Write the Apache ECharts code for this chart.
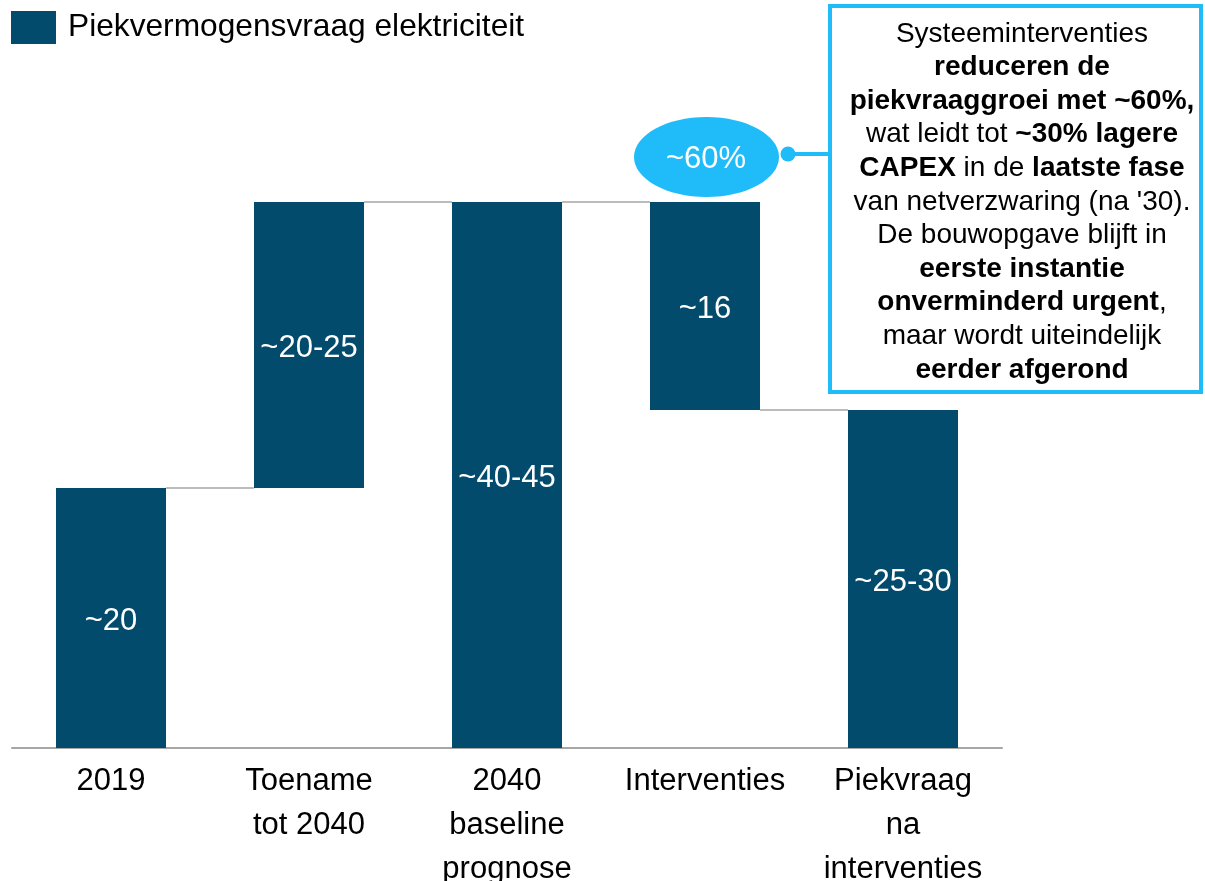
<!DOCTYPE html>
<html>
<head>
<meta charset="utf-8">
<script src="https://cdn.jsdelivr.net/npm/echarts@6/dist/echarts.min.js"></script>
<style>
  html, body { margin: 0; padding: 0; background: #fff; }
  #chart { width: 1205px; height: 881px; }
</style>
</head>
<body>
<div id="chart"></div>
<script>
const categories = ['2019', 'Toename\ntot 2040', '2040\nbaseline\nprognose', 'Interventies', 'Piekvraag\nna\ninterventies']
const baseValues = [0, 20, 0, 26, 0]       // invisible offset of each waterfall step
const stepValues = [20, 22, 42, 16, 26]    // visible bar heights
const barLabels = ['~20', '~20-25', '~40-45', '~16', '~25-30']
const connectors = [[0, 20], [1, 42], [2, 42], [3, 26]]  // [from category, level]

const font = 'Arial, "Liberation Sans", sans-serif'
const barColor = '#034b6d'
const cyan = '#20bcfa'
const BAR_W = 110

const chart = echarts.init(document.getElementById('chart'))

const option = {
  animation: false,
  textStyle: { fontFamily: font },
  legend: {
    left: 6,
    top: 6,
    icon: 'rect',
    itemWidth: 45,
    itemHeight: 33,
    data: ['Piekvermogensvraag elektriciteit'],
    textStyle: { fontSize: 31.7, color: '#000', fontFamily: font, padding: [6, 0, 0, 7] }
  },
  grid: { left: 12, right: 203, top: 98, bottom: 133, containLabel: false, outerBoundsMode: 'none' },
  xAxis: {
    type: 'category',
    data: categories,
    axisLine: { lineStyle: { color: '#a6a6a6', width: 2 } },
    axisTick: { show: false },
    axisLabel: { fontSize: 31, color: '#000', lineHeight: 44, margin: 11, fontFamily: font, interval: 0 }
  },
  yAxis: { type: 'value', min: 0, max: 50, show: false, splitLine: { show: false } },
  series: [
    {
      name: 'base',
      type: 'bar',
      stack: 'wf',
      barWidth: BAR_W,
      itemStyle: { color: 'transparent' },
      silent: true,
      data: baseValues
    },
    {
      name: 'Piekvermogensvraag elektriciteit',
      type: 'bar',
      stack: 'wf',
      barWidth: BAR_W,
      itemStyle: { color: barColor },
      label: {
        show: true,
        position: 'inside',
        offset: [0, 3],
        color: '#fff',
        fontSize: 31,
        fontFamily: font,
        formatter: p => barLabels[p.dataIndex]
      },
      data: stepValues
    },
    {
      name: 'connector',
      type: 'custom',
      silent: true,
      z: 1,
      renderItem (params, api) {
        const pt = api.coord([api.value(0), api.value(1)])
        const step = api.size([1, 0])[0]
        return {
          type: 'line',
          shape: { x1: pt[0] + BAR_W / 2, y1: pt[1], x2: pt[0] + step - BAR_W / 2, y2: pt[1] },
          style: { stroke: '#a6a6a6', lineWidth: 1.5 }
        }
      },
      encode: { x: 0, y: 1 },
      data: connectors
    }
  ],
  graphic: [
    {
      type: 'rect',
      shape: { x: 830, y: 6, width: 371, height: 386 },
      style: { fill: '#fff', stroke: cyan, lineWidth: 4 }
    },
    {
      type: 'line',
      shape: { x1: 788, y1: 154, x2: 830, y2: 154 },
      style: { stroke: cyan, lineWidth: 4 }
    },
    {
      type: 'circle',
      shape: { cx: 788, cy: 154, r: 7.5 },
      style: { fill: cyan }
    },
    {
      type: 'ellipse',
      shape: { cx: 706.5, cy: 157, rx: 72.5, ry: 40 },
      style: { fill: cyan }
    },
    {
      type: 'text',
      x: 706,
      y: 159,
      style: {
        text: '~60%',
        fill: '#fff',
        font: '31px ' + font,
        align: 'center',
        verticalAlign: 'middle'
      }
    },
    {
      type: 'text',
      x: 1022,
      y: 17,
      style: {
        text: [
          '{n|Systeeminterventies}',
          '{b|reduceren de}',
          '{b|piekvraaggroei met ~60%,}',
          '{n|wat leidt tot }{b|~30% lagere}',
          '{b|CAPEX}{n| in de }{b|laatste fase}',
          "{n|van netverzwaring (na '30).}",
          '{n|De bouwopgave blijft in}',
          '{b|eerste instantie}',
          '{b|onverminderd urgent}{n|,}',
          '{n|maar wordt uiteindelijk}',
          '{b|eerder afgerond}'
        ].join('\n'),
        align: 'center',
        verticalAlign: 'top',
        rich: {
          n: { fontSize: 28, fontFamily: font, color: '#000', lineHeight: 33.6, align: 'center' },
          b: { fontSize: 28, fontFamily: font, fontWeight: 'bold', color: '#000', lineHeight: 33.6, align: 'center' }
        }
      }
    }
  ]
}

chart.setOption(option)
</script>
</body>
</html>
